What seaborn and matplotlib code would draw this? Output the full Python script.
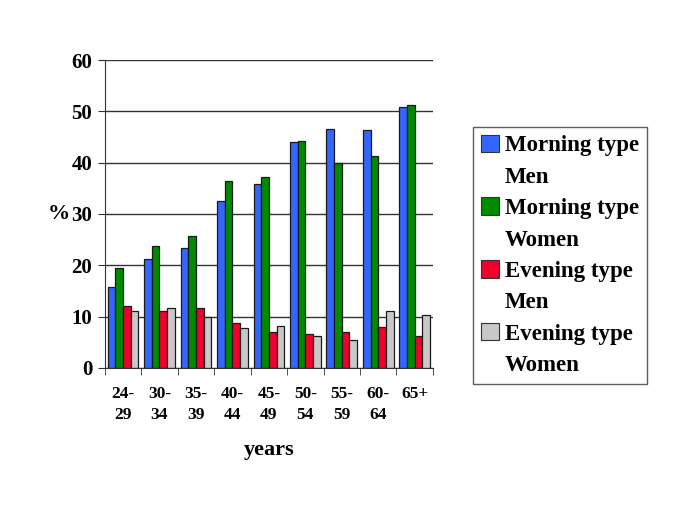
import numpy as np
import pandas as pd
import matplotlib
matplotlib.use("Agg")
import matplotlib.pyplot as plt
import seaborn as sns
from matplotlib.patches import Patch
from matplotlib.ticker import FixedLocator, NullFormatter

categories = ["24-\n29", "30-\n34", "35-\n39", "40-\n44", "45-\n49", "50-\n54", "55-\n59", "60-\n64", "65+\n"]
series = ["Morning type\nMen", "Morning type\nWomen", "Evening type\nMen", "Evening type\nWomen"]
morning_men = [15.7, 21.2, 23.3, 32.5, 35.8, 44.0, 46.6, 46.4, 50.8]
morning_women = [19.5, 23.7, 25.7, 36.5, 37.1, 44.3, 40.0, 41.3, 51.3]
evening_men = [12.1, 11.0, 11.6, 8.7, 7.0, 6.6, 6.9, 7.9, 6.2]
evening_women = [11.0, 11.6, 10.0, 7.7, 8.1, 6.3, 5.5, 11.0, 10.3]
colors = ["#3366FF", "#008A00", "#F0002C", "#C8C8C8"]

rows = []
for s, vals in zip(series, [morning_men, morning_women, evening_men, evening_women]):
    for c, v in zip(categories, vals):
        rows.append({"age": c, "series": s, "value": v})
df = pd.DataFrame(rows)

sns.set_style("white")
plt.rcParams["font.family"] = ["Liberation Serif", "DejaVu Serif"]
plt.rcParams["font.weight"] = "bold"
plt.rcParams["text.color"] = "black"
plt.rcParams["axes.labelcolor"] = "black"
plt.rcParams["xtick.labelcolor"] = "black"
plt.rcParams["ytick.labelcolor"] = "black"

fig = plt.figure(figsize=(6.85, 5.13), dpi=100)
ax = fig.add_axes([0.153, 0.283, 0.479, 0.6])

sns.barplot(data=df, x="age", y="value", hue="series", order=categories,
            hue_order=series, palette=colors, width=0.84, ax=ax,
            edgecolor="#1a1a1a", linewidth=0.9, legend=False, saturation=1)

ax.set_ylim(0, 60)
ax.set_xlim(-0.5, len(categories) - 0.5)
ax.set_yticks(range(0, 61, 10))
ax.yaxis.grid(True, color="#333333", linewidth=1.0)
ax.set_axisbelow(True)
for sp in ["top", "right"]:
    ax.spines[sp].set_visible(False)
ax.spines["left"].set_color("#333333")
ax.spines["bottom"].set_color("#333333")

ax.tick_params(axis="y", which="major", length=5, direction="out", left=True,
               labelsize=15, color="#333333", labelcolor="black", pad=4)
for lbl in ax.get_yticklabels():
    lbl.set_fontweight("bold")
ax.tick_params(axis="x", which="major", length=0, labelsize=12.5, pad=13,
               labelcolor="black")
for lbl in ax.get_xticklabels():
    lbl.set_fontweight("bold")
    lbl.set_linespacing(1.45)
ax.xaxis.set_minor_locator(FixedLocator(np.arange(-0.5, len(categories), 1.0)))
ax.xaxis.set_minor_formatter(NullFormatter())
ax.tick_params(axis="x", which="minor", length=5, direction="out", bottom=True,
               color="#333333")

ax.set_xlabel("years", fontsize=16, fontweight="bold", labelpad=12, color="black")
ax.set_ylabel("%", fontsize=16, fontweight="bold", rotation=0, labelpad=9,
              va="center", color="black")

# legend: colored square on first line, second line with an invisible handle
leg_handles = []
leg_labels = []
for c, s in zip(colors, series):
    first, second = s.split("\n")
    leg_handles.append(Patch(facecolor=c, edgecolor="#333333", linewidth=0.8))
    leg_labels.append(first)
    leg_handles.append(Patch(facecolor="none", edgecolor="none"))
    leg_labels.append(second)
leg = fig.legend(leg_handles, leg_labels, loc="upper left",
                 bbox_to_anchor=(0.690, 0.753),
                 frameon=True, fancybox=False, edgecolor="#333333",
                 prop={"family": "Liberation Serif", "weight": "bold", "size": 16.5},
                 handlelength=0.8, handleheight=0.8, handletextpad=0.25,
                 labelspacing=0.42, borderpad=0.35, borderaxespad=0,
                 labelcolor="black")
leg.get_frame().set_linewidth(1.0)

fig.savefig("out.png", dpi=100)
